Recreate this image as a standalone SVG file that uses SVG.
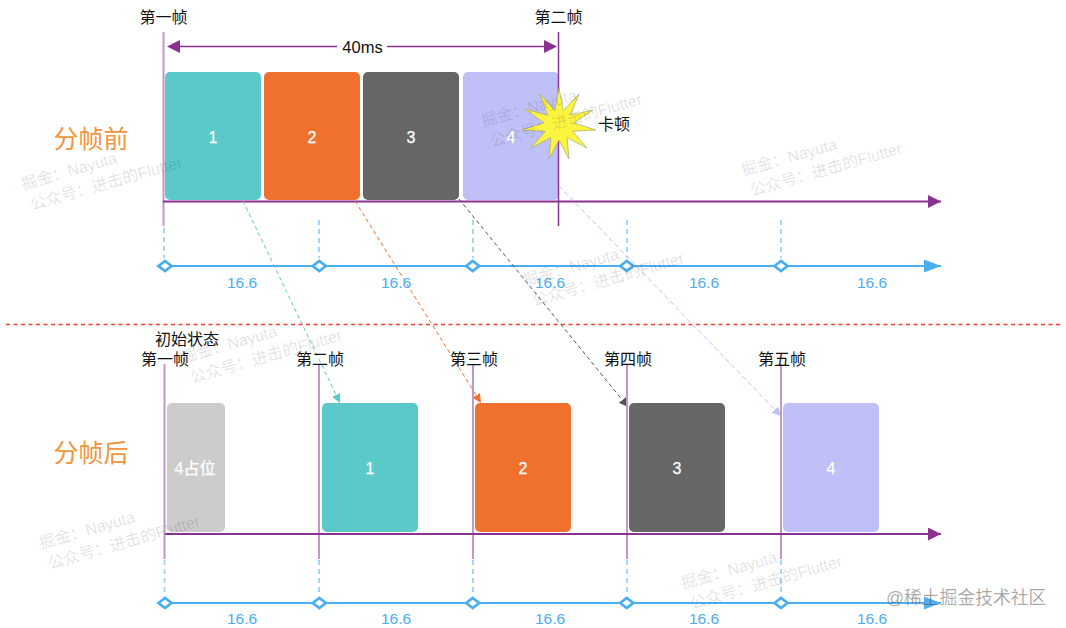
<svg xmlns="http://www.w3.org/2000/svg" width="1066" height="628" viewBox="0 0 1066 628">
<style>
text{font-family:"Liberation Sans","Noto Sans CJK SC",sans-serif}
.f{font-size:16px;fill:#111;text-anchor:middle}
.n{font-size:16px;fill:#fff;text-anchor:middle;stroke:#fff;stroke-width:.25}
.b{font-size:15.5px;fill:#4aaef2;text-anchor:middle}
.h{font-size:25px;fill:#f0953c;text-anchor:middle}
.w{font-size:16px;fill:#000;fill-opacity:.13}
.p{stroke:#8b3191;stroke-width:2;fill:none}
.v{stroke:#c197ca;stroke-width:2;fill:none}
.bl{stroke:#4aaef2;stroke-width:2;fill:none}
.bd{stroke:#a6d4fb;stroke-width:2;stroke-dasharray:5 4;fill:none}
.dm{fill:#fff;stroke:#4aaef2;stroke-width:2.8}
</style>
<defs>
<marker id="ap" markerUnits="userSpaceOnUse" markerWidth="14" markerHeight="14" refX="13" refY="6.500" orient="auto"><path d="M0 0L13 6.500L0 13Z" fill="#8b3191"/></marker>
<marker id="ab" markerUnits="userSpaceOnUse" markerWidth="18" markerHeight="14" refX="17" refY="6.500" orient="auto"><path d="M0 0L17 6.500L0 13Z" fill="#4aaef2"/></marker>
<marker id="at" markerUnits="userSpaceOnUse" markerWidth="10" markerHeight="10" refX="9" refY="4.500" orient="auto"><path d="M0 0L9 4.500L0 9Z" fill="#5bc9c9"/></marker>
<marker id="ao" markerUnits="userSpaceOnUse" markerWidth="10" markerHeight="10" refX="9" refY="4.500" orient="auto"><path d="M0 0L9 4.500L0 9Z" fill="#f0702e"/></marker>
<marker id="ad" markerUnits="userSpaceOnUse" markerWidth="10" markerHeight="10" refX="9" refY="4.500" orient="auto"><path d="M0 0L9 4.500L0 9Z" fill="#555"/></marker>
<marker id="al" markerUnits="userSpaceOnUse" markerWidth="10" markerHeight="10" refX="9" refY="4.500" orient="auto"><path d="M0 0L9 4.500L0 9Z" fill="#c0c0f8"/></marker>
</defs>
<g id="before-blocks">
<g id="b1"><rect x="165" y="72" width="96" height="128" rx="5" fill="#5bc9c9"/><text class="n" x="213" y="143">1</text></g>
<g id="b2"><rect x="264" y="72" width="96" height="128" rx="5" fill="#f0702e"/><text class="n" x="312" y="143">2</text></g>
<g id="b3"><rect x="363" y="72" width="96" height="128" rx="5" fill="#666"/><text class="n" x="411" y="143">3</text></g>
<g id="b4"><rect x="463" y="72" width="96" height="128" rx="5" fill="#c0c0f8"/><text class="n" x="511" y="143">4</text></g>
</g>
<g id="after-blocks">
<g id="p4"><rect x="167" y="403" width="58" height="129" rx="5" fill="#ccc"/><text class="n" x="195" y="474">4占位</text></g>
<g id="a1"><rect x="322" y="403" width="96" height="129" rx="5" fill="#5bc9c9"/><text class="n" x="370" y="474">1</text></g>
<g id="a2"><rect x="475" y="403" width="96" height="129" rx="5" fill="#f0702e"/><text class="n" x="523" y="474">2</text></g>
<g id="a3"><rect x="629" y="403" width="96" height="129" rx="5" fill="#666"/><text class="n" x="677" y="474">3</text></g>
<g id="a4"><rect x="783" y="403" width="96" height="129" rx="5" fill="#c0c0f8"/><text class="n" x="831" y="474">4</text></g>
</g>
<g id="connectors">
<path class="v" d="M163.500 32V226"/>
<path d="M558.500 32V226" stroke="#8b3191" stroke-width="1.500" fill="none"/>
<path d="M180 46.500H337M387 46.500H544" stroke="#8b3191" stroke-width="1.500" fill="none"/>
<path d="M180 40L167 46.500L180 53Z" fill="#8b3191"/>
<path d="M544 40L557 46.500L544 53Z" fill="#8b3191"/>
<path class="p" d="M163 201.500H941" marker-end="url(#ap)"/>
<path class="bd" d="M164 228V258M319 220V258M473 220V258M627 220V258M781 220V258"/>
<path class="bl" d="M165 266H941" marker-end="url(#ab)"/>
<path d="M6 324.500H1060" stroke="#f5402f" stroke-width="1.500" stroke-dasharray="4 3.500" fill="none"/>
<path d="M243 201L340 403" stroke="#5bc9c9" stroke-width="1" stroke-dasharray="4 3" fill="none" marker-end="url(#at)"/>
<path d="M355 201L481 403" stroke="#f0702e" stroke-width="1" stroke-dasharray="4 3" fill="none" marker-end="url(#ao)"/>
<path d="M459 199L628 407" stroke="#555" stroke-width="1" stroke-dasharray="4 3" fill="none" marker-end="url(#ad)"/>
<path d="M559 186L781 416" stroke="#c0c0f8" stroke-width="1" stroke-dasharray="5 3" fill="none" marker-end="url(#al)"/>
<path class="v" d="M164.500 364V559M319 364V559M473 364V559M627 364V559M781 364V559"/>
<path class="p" d="M165 534H941" marker-end="url(#ap)"/>
<path class="bd" d="M164.500 560V595M319 560V595M473 560V595M627 560V595M781 560V595"/>
<path class="bl" d="M165 603H941" marker-end="url(#ab)"/>
</g>
<g id="diamonds">
<path class="dm" d="M158.500 266L165 261L171.500 266L165 271Z"/><path class="dm" d="M312.800 266L319.300 261L325.800 266L319.300 271Z"/><path class="dm" d="M466.200 266L472.700 261L479.200 266L472.700 271Z"/><path class="dm" d="M620.200 266L626.700 261L633.200 266L626.700 271Z"/><path class="dm" d="M774.500 266L781 261L787.500 266L781 271Z"/>
<path class="dm" d="M158.500 603L165 598L171.500 603L165 608Z"/><path class="dm" d="M312.800 603L319.300 598L325.800 603L319.300 608Z"/><path class="dm" d="M466.200 603L472.700 598L479.200 603L472.700 608Z"/><path class="dm" d="M620.200 603L626.700 598L633.200 603L626.700 608Z"/><path class="dm" d="M774.500 603L781 598L787.500 603L781 608Z"/>
</g>
<g id="star"><polygon points="559,88 563.200,110.600 579,94 570.300,115.200 593,110 573.800,122.900 596,130 572.700,131.200 587,148 567.100,137.600 569,159 559,140 549,159 550.900,137.600 531,148 545.300,131.200 522,130 544.200,122.900 525,109 547.700,115.200 540,94 554.800,110.600" fill="#fbf53f" stroke="#a8a86a" stroke-width=".7"/></g>
<g id="labels">
<text class="f" x="163.500" y="23">第一帧</text><text class="f" x="558.500" y="23">第二帧</text>
<text x="362.500" y="53" font-size="16.500" fill="#111" text-anchor="middle">40ms</text>
<text class="f" x="614" y="130">卡顿</text>
<text class="h" x="91" y="148">分帧前</text><text class="h" x="91" y="462">分帧后</text>
<text class="f" x="187" y="345">初始状态</text><text class="f" x="165" y="365">第一帧</text><text class="f" x="320" y="365">第二帧</text><text class="f" x="474" y="365">第三帧</text><text class="f" x="628" y="365">第四帧</text><text class="f" x="782" y="365">第五帧</text>
<text class="b" x="242" y="288">16.6</text><text class="b" x="396" y="288">16.6</text><text class="b" x="550" y="288">16.6</text><text class="b" x="704" y="288">16.6</text><text class="b" x="872" y="288">16.6</text>
<text class="b" x="242" y="624">16.6</text><text class="b" x="396" y="624">16.6</text><text class="b" x="550" y="624">16.6</text><text class="b" x="704" y="624">16.6</text><text class="b" x="872" y="624">16.6</text>
</g>
<g id="watermarks">
<g transform="translate(23,190) rotate(-16)"><text class="w">掘金：Nayuta</text><text class="w" x="3" y="22">公众号：进击的Flutter</text></g>
<g transform="translate(483,127) rotate(-16)"><text class="w">掘金：Nayuta</text><text class="w" x="3" y="22">公众号：进击的Flutter</text></g>
<g transform="translate(743,176) rotate(-16)"><text class="w">掘金：Nayuta</text><text class="w" x="3" y="22">公众号：进击的Flutter</text></g>
<g transform="translate(525,286) rotate(-16)"><text class="w">掘金：Nayuta</text><text class="w" x="3" y="22">公众号：进击的Flutter</text></g>
<g transform="translate(183,363) rotate(-16)"><text class="w">掘金：Nayuta</text><text class="w" x="3" y="22">公众号：进击的Flutter</text></g>
<g transform="translate(41,549) rotate(-16)"><text class="w">掘金：Nayuta</text><text class="w" x="3" y="22">公众号：进击的Flutter</text></g>
<g transform="translate(683,589) rotate(-16)"><text class="w">掘金：Nayuta</text><text class="w" x="3" y="22">公众号：进击的Flutter</text></g>
<text x="886" y="604" font-size="17.800" fill="#000" fill-opacity=".4" stroke="#fff" stroke-opacity=".3" stroke-width=".5">@稀土掘金技术社区</text>
</g>
</svg>
